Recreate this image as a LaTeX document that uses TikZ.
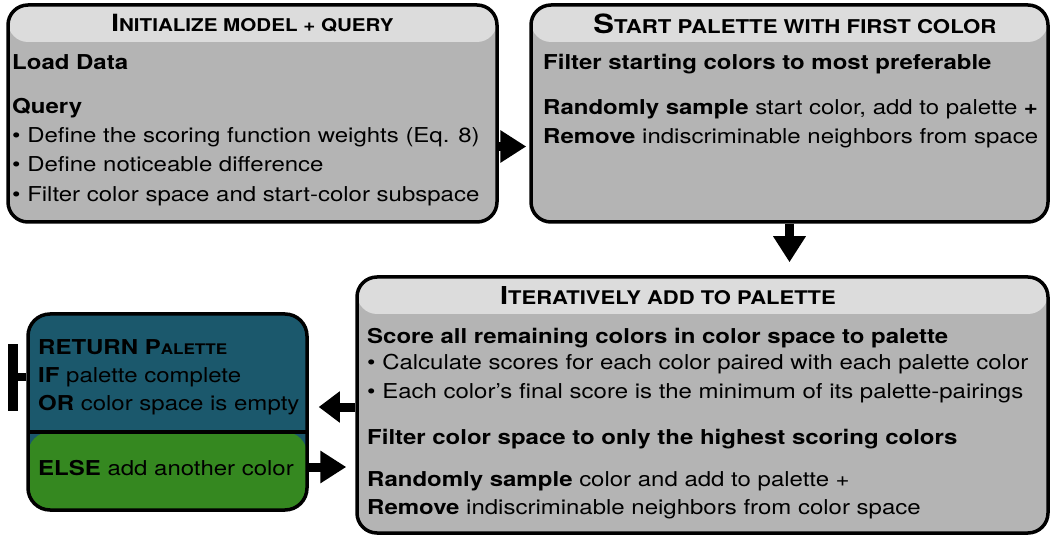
\documentclass[tikz,border=0pt]{standalone}
\usepackage{fontspec}
\setmainfont{TeX Gyre Heros}[FakeStretch=1.17]
\usetikzlibrary{arrows.meta}

\definecolor{hdrgray}{RGB}{220,220,220}
\definecolor{bodygray}{RGB}{180,180,180}
\definecolor{retblue}{RGB}{27,88,108}
\definecolor{elsegreen}{RGB}{53,136,32}

% heading in small capitals: large first part, smaller rest
\newcommand\capsline[4]{{\fontsize{#1}{#1}\selectfont #3}{\fontsize{#2}{#2}\selectfont #4}}

\begin{document}
\begin{tikzpicture}[x=1pt,y=-1pt,
  stage/.style={draw=black, line width=3.5pt, rounded corners=20pt, fill=bodygray,
    inner sep=0pt,
    path picture={\fill[hdrgray] (path picture bounding box.north west)
      rectangle ([yshift=-37pt]path picture bounding box.north east);}},
  decision/.style={draw=black, line width=3.5pt, rounded corners=22pt, fill=retblue,
    inner sep=0pt,
    path picture={\fill[elsegreen] ([yshift=-118pt]path picture bounding box.north west)
      rectangle (path picture bounding box.south east);
      \draw[line width=3.5pt] ([yshift=-118pt]path picture bounding box.north west)
      -- ([yshift=-118pt]path picture bounding box.north east);}},
  txt/.style={anchor=base west, inner sep=0pt, font=\fontsize{20.5}{20.5}\selectfont},
  title/.style={anchor=base, inner sep=0pt, font=\bfseries},
  flow/.style={line width=9pt, -{Triangle[length=26pt,width=31pt]}},
]
\useasboundingbox (0,0) rectangle (1053,540);

% the four stages
\node[stage, minimum width=489pt, minimum height=217pt] (init) at (252.5,113.5) {};
\node[stage, minimum width=517pt, minimum height=217pt] (start) at (789.5,113.5) {};
\node[stage, minimum width=691pt, minimum height=256pt] (iter) at (702.5,405) {};
\node[decision, minimum width=279pt, minimum height=196pt] (ret) at (167.5,412) {};

% headings
\node[title] (initT) at (252.5,32) {\capsline{23.7}{17.6}{I}{NITIALIZE MODEL + QUERY}};
\node[title] (startT) at (795,34) {\capsline{26.5}{19}{S}{TART PALETTE WITH FIRST COLOR}};
\node[title] (iterT) at (668,305) {\capsline{24.7}{18.8}{I}{TERATIVELY ADD TO PALETTE}};

% initialize model + query
\node[txt] (i1) at (12,70) {\bfseries Load Data};
\node[txt] (i2) at (12,114) {\bfseries Query};
\node[txt] (i3) at (12,143) {• Define the scoring function weights (Eq. 8)};
\node[txt] (i4) at (12,172) {• Define noticeable difference};
\node[txt] (i5) at (12,202) {• Filter color space and start-color subspace};

% start palette with first color
\node[txt] (s1) at (543,70) {\bfseries Filter starting colors to most preferable};
\node[txt] (s2) at (543,115) {\textbf{Randomly sample} start color, add to palette \textbf{+}};
\node[txt] (s3) at (543,144) {\textbf{Remove} indiscriminable neighbors from space};

% iteratively add to palette
\node[txt] (t1) at (367,343) {\bfseries Score all remaining colors in color space to palette};
\node[txt] (t2) at (367,370) {• Calculate scores for each color paired with each palette color};
\node[txt] (t3) at (367,398) {• Each color’s final score is the minimum of its palette-pairings};
\node[txt] (t4) at (367,444) {\bfseries Filter color space to only the highest scoring colors};
\node[txt] (t5) at (367,486) {\textbf{Randomly sample} color and add to palette +};
\node[txt] (t6) at (367,514) {\textbf{Remove} indiscriminable neighbors from color space};

% return or continue
\node[txt] (r1) at (38,354) {\bfseries RETURN P{\fontsize{14.6}{14.6}\selectfont ALETTE}};
\node[txt] (r2) at (38,382) {\textbf{IF} palette complete};
\node[txt] (r3) at (38,410) {\textbf{OR} color space is empty};
\node[txt] (r4) at (38,475) {\textbf{ELSE} add another color};

% connectors
\draw[flow, shorten >=3pt] ([yshift=-33pt]init.east) -- ([yshift=-33pt]start.west);
\draw[flow, shorten >=13pt] (start.south) -- (start.south |- iter.north);
\draw[flow, shorten >=10pt, -{Triangle[length=21pt,width=30pt]}]
  ([yshift=-2pt]iter.west) -- ([yshift=-2pt]iter.west -| ret.east);
\draw[flow, shorten >=9pt] ([yshift=-55pt]ret.east) -- ([yshift=-55pt]ret.east -| iter.west);

% stop bar on the left of the decision box
\coordinate (stopbar) at (8,377);
\draw[line width=8pt, -{Bar[width=67pt,line width=10pt]}] (ret.west |- stopbar) -- (stopbar);
\end{tikzpicture}
\end{document}
